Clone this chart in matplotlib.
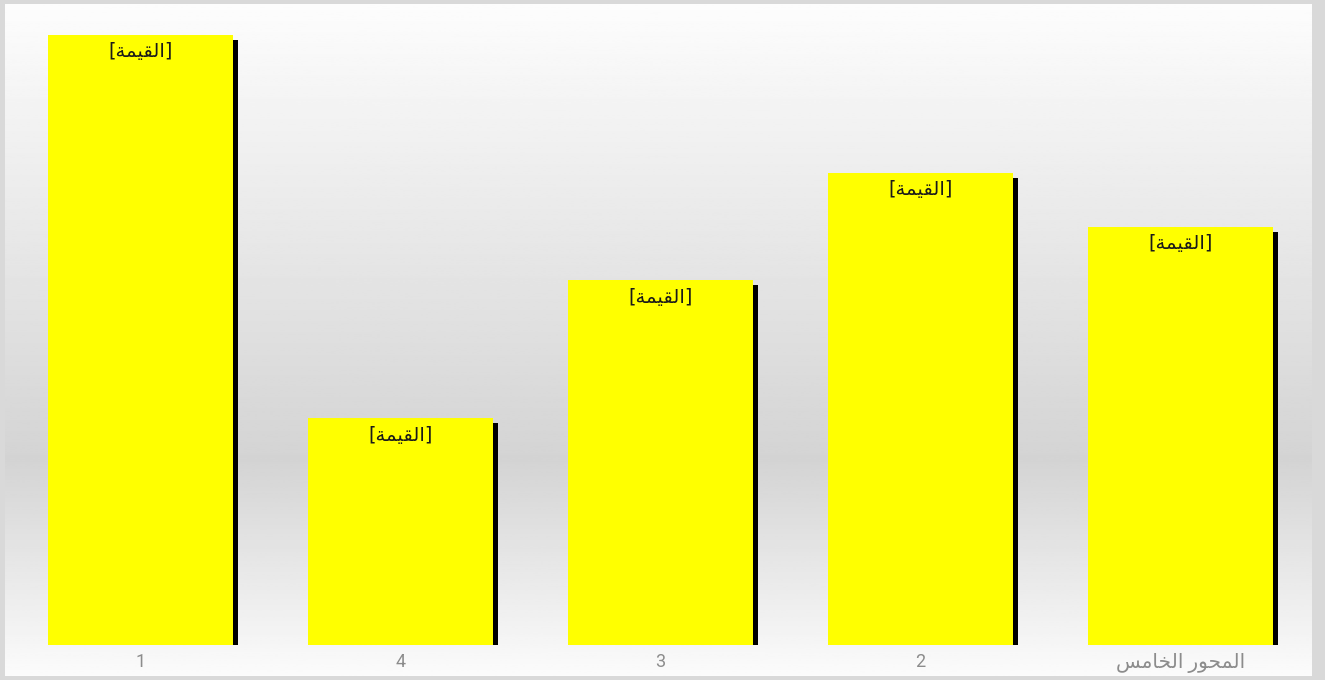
import numpy as np
import matplotlib.pyplot as plt
from matplotlib.patches import Rectangle

# Chart data
categories = ['1', '4', '3', '2', 'المحور الخامس']
values = [4.30, 1.60, 2.57, 3.33, 2.95]
value_label = '[القيمة]'

# Minimal Arabic shaping (presentation forms) for the letters used here
FORMS = {
    'ا': ('\uFE8D', '\uFE8E', None, None),
    'ل': ('\uFEDD', '\uFEDE', '\uFEDF', '\uFEE0'),
    'ق': ('\uFED5', '\uFED6', '\uFED7', '\uFED8'),
    'ي': ('\uFEF1', '\uFEF2', '\uFEF3', '\uFEF4'),
    'م': ('\uFEE1', '\uFEE2', '\uFEE3', '\uFEE4'),
    'ة': ('\uFE93', '\uFE94', None, None),
    'ح': ('\uFEA1', '\uFEA2', '\uFEA3', '\uFEA4'),
    'و': ('\uFEED', '\uFEEE', None, None),
    'ر': ('\uFEAD', '\uFEAE', None, None),
    'خ': ('\uFEA5', '\uFEA6', '\uFEA7', '\uFEA8'),
    'س': ('\uFEB1', '\uFEB2', '\uFEB3', '\uFEB4'),
}


def dual(c):
    return c in FORMS and FORMS[c][2] is not None


def shape_word(word):
    out = []
    for i, c in enumerate(word):
        if c not in FORMS:
            out.append(c)
            continue
        prev_j = i > 0 and dual(word[i - 1])
        next_j = dual(c) and i + 1 < len(word) and word[i + 1] in FORMS
        iso, fin, ini, med = FORMS[c]
        if prev_j and next_j:
            out.append(med)
        elif prev_j:
            out.append(fin)
        elif next_j:
            out.append(ini)
        else:
            out.append(iso)
    return ''.join(out)


def arabic(text):
    if not any(c in FORMS for c in text):
        return text
    if text.startswith('[') and text.endswith(']'):
        return '[' + arabic(text[1:-1]) + ']'
    words = [shape_word(w)[::-1] for w in text.split(' ')]
    return ' '.join(words[::-1])


W, H = 1325, 680
fig = plt.figure(figsize=(W / 100, H / 100), dpi=100)
fig.patch.set_facecolor('#d9d9d9')

# Background gradient inside the frame
bg = fig.add_axes([0, 0, 1, 1], zorder=-2)
bg.set_xlim(0, W)
bg.set_ylim(H, 0)
bg.axis('off')
ys = np.linspace(0, 1, 300)
top, mid, bot = 0.99, 0.83, 0.985
g = np.where(ys < 0.68, top + (mid - top) * (ys / 0.68), mid + (bot - mid) * ((ys - 0.68) / 0.32))
grad = np.repeat(g[:, None], 2, axis=1)
bg.imshow(grad, cmap='gray', vmin=0, vmax=1, extent=[5, 1312, 676, 4], aspect='auto')

# Main axes
left_px, right_px = 10.5, 1310.5
base_px, top_px = 645, 15
ax = fig.add_axes([left_px / W, (H - base_px) / H, (right_px - left_px) / W, (base_px - top_px) / H])
ax.patch.set_alpha(0)

px_per_unit = 610 / values[0]
ymax = (base_px - top_px) / px_per_unit
x = np.arange(len(categories))
width = 185 / 260
dx = 5 / 260
dy = 5 / px_per_unit

ax.bar(x + dx, [v - dy for v in values], width=width, color='black', zorder=1)
ax.bar(x, values, width=width, color='#ffff00', zorder=2)

for xi, v in zip(x, values):
    ax.text(xi, v - 17 / px_per_unit, arabic(value_label), ha='center', va='center',
            fontsize=14, color='#1a1a1a', family=['DejaVu Sans'], zorder=3)

ax.set_xlim(-0.5, len(categories) - 0.5)
ax.set_ylim(0, ymax)
ax.set_xticks(x)
ax.set_xticklabels([arabic(c) for c in categories], color='#8c8c8c',
                   family=['Roboto', 'DejaVu Sans'])
for lbl, c in zip(ax.get_xticklabels(), categories):
    lbl.set_fontsize(13 if c.isdigit() else 14.5)
ax.tick_params(axis='x', length=0, pad=6)
ax.set_yticks([])
for s in ax.spines.values():
    s.set_visible(False)

fig.savefig('out.png', dpi=100)
